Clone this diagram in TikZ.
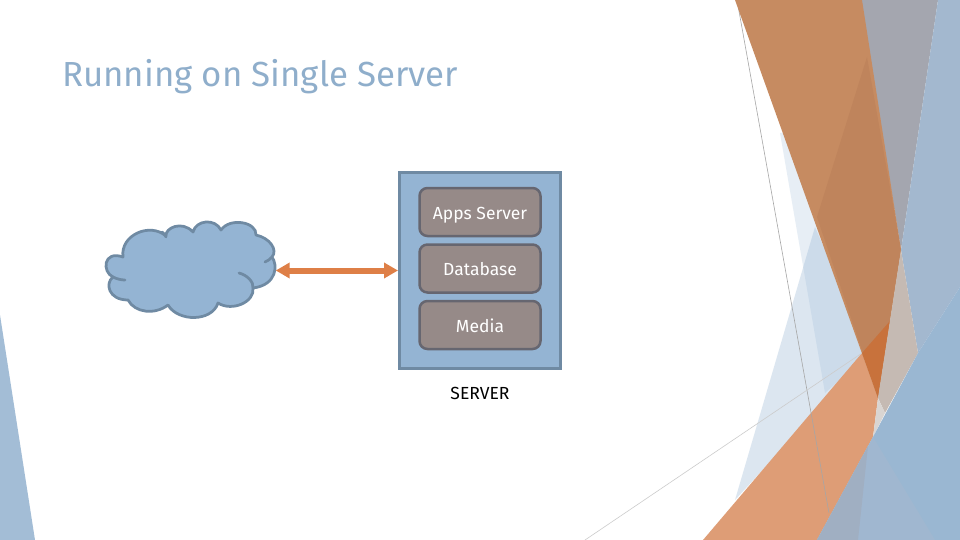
\documentclass[tikz,border=0pt]{standalone}
\usepackage{fontspec}
\setmainfont{Fira Sans}
\usepackage{xcolor}
\usetikzlibrary{arrows.meta,positioning}
\definecolor{cloudblue}{HTML}{94B4D3}
\definecolor{edgeblue}{HTML}{6F8AA3}
\definecolor{boxgray}{HTML}{968A88}
\definecolor{boxedge}{HTML}{666670}
\definecolor{linkorange}{HTML}{DE7F47}
\definecolor{titleblue}{HTML}{8FAECB}
\definecolor{leftblue}{HTML}{A3BDD6}

\begin{document}
\begin{tikzpicture}[
  x=1pt, y=-1pt,
  node distance=6pt,
  facet/.style={draw=none},
  container/.style={rectangle, draw=edgeblue, fill=cloudblue, line width=3pt, minimum width=161pt, minimum height=196pt},
  layerbox/.style={rectangle, rounded corners=8pt, draw=boxedge, fill=boxgray, line width=2.5pt, text=white, font=\fontsize{17.5}{18}\selectfont, text height=14pt, text depth=0pt, minimum width=121pt, minimum height=48pt},
  puffs/.style={draw=edgeblue, fill=cloudblue, line width=2.75pt, line join=round},
  inner/.style={draw=edgeblue, line width=2.75pt, line cap=round},
  arrow/.style={{Triangle[length=14pt,width=15pt]}-{Triangle[length=14pt,width=15pt]}, draw=linkorange, line width=6pt}
]
\useasboundingbox (0,0) rectangle (960,540);
\fill[white] (0,0) rectangle (960,540);

% left facet
\fill[facet, fill=leftblue] (0,315) -- (35,540) -- (0,540) -- cycle;

% pale facets
\fill[facet, fill=cloudblue, fill opacity=.22] (780,133) -- (800,133) -- (870,353) -- (825,393) -- cycle;
\fill[facet, fill=cloudblue, fill opacity=.32] (815,227) -- (870,353) -- (735,500) -- cycle;

% bottom facet
\fill[facet, fill={rgb,255:red,222;green,157;blue,118}] (862,353) -- (878,398) -- (873,437) -- (817,540) -- (703,540) -- cycle;

% thin lines
\draw[color=black!35, line width=.6pt] (737,0) -- (829,513);
\draw[color=black!20, line width=.6pt] (585,540) -- (862,353);

% top facets
\fill[facet, fill={rgb,255:red,164;green,166;blue,175}] (860,0) -- (938,0) -- (901,250) -- cycle;
\fill[facet, fill={rgb,255:red,198;green,139;blue,97}] (735,0) -- (862,0) -- (901,250) -- (878,398) -- cycle;
\fill[facet, fill={rgb,255:red,191;green,132;blue,92}] (867,57) -- (901,250) -- (878,398) -- (817,217) -- cycle;
\fill[facet, fill={rgb,255:red,200;green,114;blue,60}] (862,353) -- (890,321) -- (878,398) -- cycle;

% right facets
\fill[facet, fill={rgb,255:red,163;green,184;blue,207}] (938,0) -- (960,0) -- (960,287) -- (918,353) -- (901,250) -- cycle;
\fill[facet, fill={rgb,255:red,197;green,186;blue,179}] (901,250) -- (918,353) -- (885,413) -- (878,398) -- cycle;
\fill[facet, fill={rgb,255:red,217;green,213;blue,210}] (878,398) -- (885,413) -- (873,437) -- cycle;
\fill[facet, fill={rgb,255:red,154;green,183;blue,210}] (960,287) -- (918,353) -- (873,437) -- (817,540) -- (960,540) -- cycle;
\fill[facet, fill={rgb,255:red,160;green,183;blue,208}] (873,437) -- (817,540) -- (935,540) -- cycle;
\fill[facet, fill={rgb,255:red,160;green,175;blue,194}] (868,446) -- (817,540) -- (858,540) -- cycle;

\node[font=\fontsize{34.8}{38}\selectfont, text=titleblue, anchor=west, inner sep=0pt] (title) at (62,76.5) {Running on Single Server};

% the cloud
\node[minimum width=170pt, minimum height=96pt, inner sep=0pt] (cloud) at (190.5,270.5) {};
\draw[puffs] (123,257) .. controls (120,235) and (150,222) .. (166,236)
  .. controls (165,228) and (182,220) .. (193,232)
  .. controls (196,220) and (215,218) .. (221,230)
  .. controls (230,217) and (257,222) .. (256,235)
  .. controls (270,238) and (278,250) .. (272,257)
  .. controls (278,265) and (277,285) .. (253,288)
  .. controls (255,302) and (232,312) .. (218,303)
  .. controls (212,322) and (178,322) .. (168,305)
  .. controls (155,315) and (135,313) .. (128,300)
  .. controls (108,300) and (105,283) .. (113,277)
  .. controls (102,272) and (103,250) .. (123,257) -- cycle;
\draw[inner] (162,232) .. controls (164,233) and (165,235) .. (166,237);
\draw[inner] (265,262) .. controls (268,261) and (270,259) .. (272,257);
\draw[inner] (239,273) .. controls (247,275) and (254,282) .. (253,288);
\draw[inner] (113,277) .. controls (117,279) and (121,280) .. (125,280);

% the server
\node[container] (server) at (480,270.5) {};
\node[layerbox] (apps) at (480,212) {Apps Server};
\node[layerbox, below=of apps] (db) {Database};
\node[layerbox, below=of db] (media) {Media};
\node[font=\fontsize{17.5}{18}\selectfont, below=17pt of server.south, inner sep=0pt] (label) {SERVER};

\draw[arrow] (cloud) -- (server);
\end{tikzpicture}
\end{document}
